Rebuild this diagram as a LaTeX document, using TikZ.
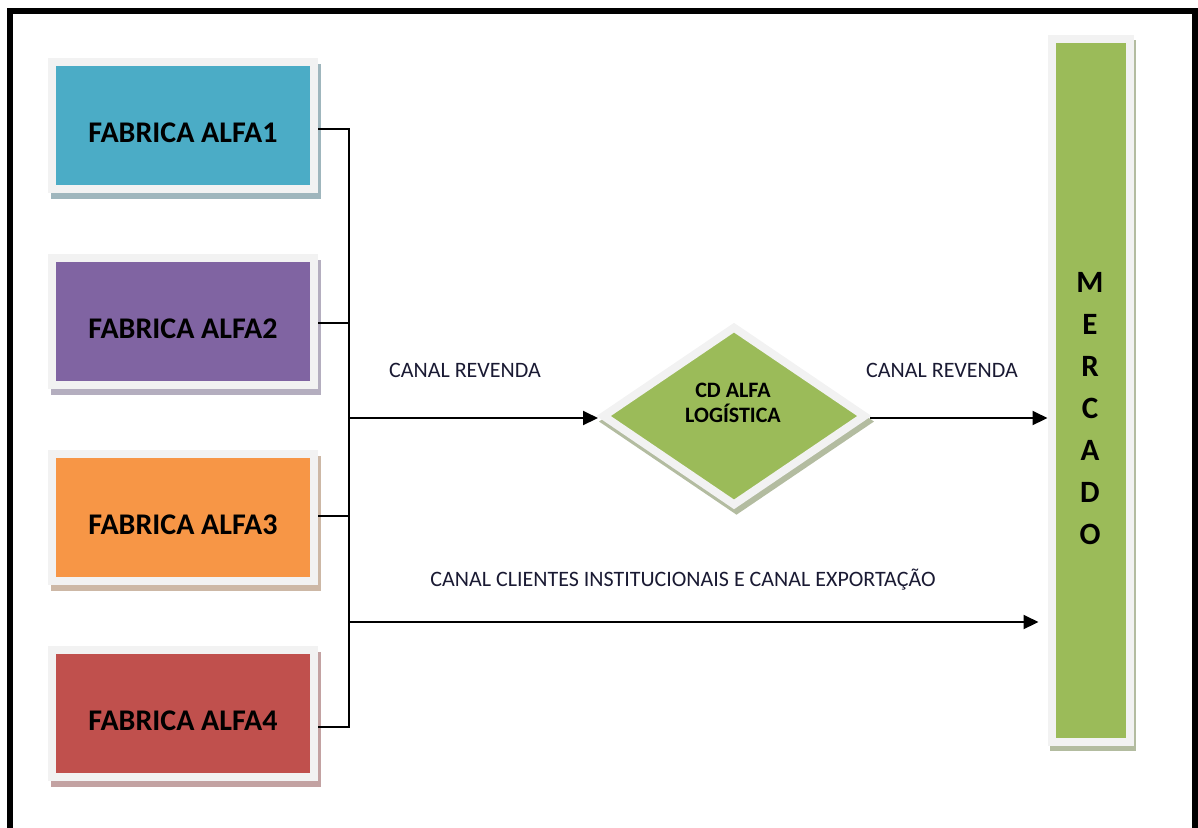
\documentclass[tikz,border=0pt]{standalone}
\usepackage{fontspec}
\setmainfont{Carlito}
\usetikzlibrary{shapes.geometric,arrows.meta}

\definecolor{rim}{HTML}{F2F2F2}
\definecolor{alfaA}{HTML}{4BACC6}
\definecolor{alfaAsh}{HTML}{9FB6BD}
\definecolor{alfaB}{HTML}{8064A2}
\definecolor{alfaBsh}{HTML}{B4AEBF}
\definecolor{alfaC}{HTML}{F79646}
\definecolor{alfaCsh}{HTML}{CDB8A6}
\definecolor{alfaD}{HTML}{C0504D}
\definecolor{alfaDsh}{HTML}{C3A2A2}
\definecolor{verde}{HTML}{9BBB59}
\definecolor{verdesh}{HTML}{B3BCA0}
\definecolor{ink}{HTML}{1A1A33}

\begin{document}
\begin{tikzpicture}[x=0.5pt,y=-0.5pt,
  panel/.style 2 args={draw=rim, line width=4pt, fill=#1, inner sep=0pt,
    preaction={draw=#2, fill=#2, transform canvas={xshift=1.25pt,yshift=-2.75pt}}},
  fab/.style={rectangle, minimum width=131pt, minimum height=63.5pt},
  fablabel/.style={font=\bfseries\fontsize{15}{18}\selectfont, text=black, inner sep=0pt},
  chan/.style={font=\fontsize{11}{13}\selectfont, text=ink, inner sep=0pt},
  wire/.style={line width=0.8pt, draw=black},
  conn/.style={line width=1pt, draw=black, -{Triangle[length=7.5pt,width=7pt]}}
]
\useasboundingbox (0,0) rectangle (1198,827);

% outer frame (open at the bottom)
\draw[line width=2.8pt, line join=miter] (10,840) -- (10,11) -- (1195,11) -- (1195,840);

% factories
\node[fab, panel={alfaA}{alfaAsh}] (f1) at (183,125.5) {};
\node[fab, panel={alfaB}{alfaBsh}] (f2) at (183,321.5) {};
\node[fab, panel={alfaC}{alfaCsh}] (f3) at (183,517.5) {};
\node[fab, panel={alfaD}{alfaDsh}] (f4) at (183,713.5) {};
\node[fablabel] (t1) at ([yshift=-3.5pt]f1.center) {FABRICA ALFA1};
\node[fablabel] (t2) at ([yshift=-3.5pt]f2.center) {FABRICA ALFA2};
\node[fablabel] (t3) at ([yshift=-3.5pt]f3.center) {FABRICA ALFA3};
\node[fablabel] (t4) at ([yshift=-3.5pt]f4.center) {FABRICA ALFA4};

% distribution centre
\node[diamond, minimum width=132pt, minimum height=90pt, panel={verde}{verdesh}] (cd) at (734,416) {};
\node[font=\bfseries\fontsize{11}{12.5}\selectfont, align=center, inner sep=0pt] (cdt) at (733,403) {CD ALFA\\LOGÍSTICA};

% market
\node[rectangle, minimum width=39pt, minimum height=351.5pt, panel={verde}{verdesh}] (merc) at (1090.5,390) {};
\node[font=\bfseries\fontsize{15.5}{21}\selectfont, align=center, inner sep=0pt] (mt) at (1090,409) {M\\E\\R\\C\\A\\D\\O};

% collecting bus
\coordinate (j1) at (349,129);
\coordinate (j2) at (349,323);
\coordinate (j3) at (349,516);
\coordinate (j4) at (349,727);
\coordinate (jA) at (349,418);
\coordinate (jB) at (349,622);
\draw[wire] (f1.east |- j1) -- (j1) -- (j4) -- (f4.east |- j4);
\draw[wire] (f2.east |- j2) -- (j2);
\draw[wire] (f3.east |- j3) -- (j3);

% channels
\draw[conn] (jA) -- (jA -| cd.west);
\draw[conn] (cd.east |- jA) -- (jA -| merc.west);
\draw[conn, shorten >=4.5pt] (jB) -- (jB -| merc.west);

\node[chan] (l1) at (465,370) {CANAL REVENDA};
\node[chan] (l2) at (942,370) {CANAL REVENDA};
\node[chan] (l3) at (683,580) {CANAL CLIENTES INSTITUCIONAIS E CANAL EXPORTAÇÃO};
\end{tikzpicture}
\end{document}
